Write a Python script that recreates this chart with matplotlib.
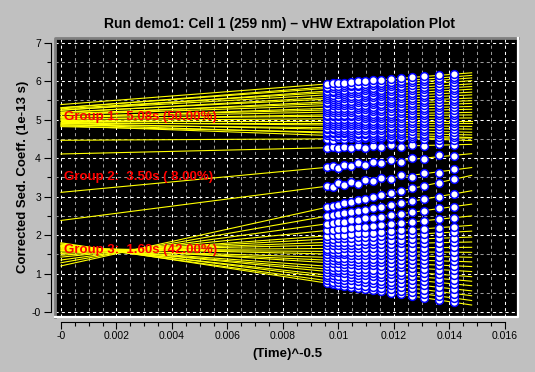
import numpy as np
import matplotlib
matplotlib.use("Agg")
import matplotlib.pyplot as plt
from matplotlib.ticker import FixedLocator, FixedFormatter, MultipleLocator
from matplotlib.lines import Line2D

# ---------------- data ----------------
title = "Run demo1: Cell 1 (259 nm) \u2013 vHW Extrapolation Plot"
x_label = "(Time)^-0.5"
y_label = "Corrected Sed. Coeff. (1e-13 s)"

x_ticks = [0.0, 0.002, 0.004, 0.006, 0.008, 0.010, 0.012, 0.014, 0.016]
x_tick_labels = ["-0", "0.002", "0.004", "0.006", "0.008", "0.01", "0.012", "0.014", "0.016"]
y_ticks = [0, 1, 2, 3, 4, 5, 6, 7]
y_tick_labels = ["-0", "1", "2", "3", "4", "5", "6", "7"]

# (time)^-0.5 of each scan
scan_x = [0.00958, 0.00979, 0.00999, 0.01020, 0.01044, 0.01069, 0.01096, 0.01123,
          0.01153, 0.01188, 0.01224, 0.01264, 0.01308, 0.01362, 0.01416]

# apparent s-values of each boundary fraction (rows) in each scan (columns)
s_points = [
    # group 3
    [0.75, 0.73, 0.71, 0.68, 0.66, 0.63, 0.60, 0.57, 0.54, 0.50, 0.46, 0.42, 0.37, 0.31, 0.25],
    [0.82, 0.79, 0.78, 0.75, 0.73, 0.71, 0.68, 0.65, 0.62, 0.59, 0.55, 0.51, 0.47, 0.42, 0.36],
    [0.90, 0.88, 0.86, 0.84, 0.82, 0.80, 0.77, 0.75, 0.72, 0.69, 0.66, 0.62, 0.58, 0.53, 0.48],
    [0.96, 0.95, 0.93, 0.91, 0.90, 0.88, 0.85, 0.83, 0.81, 0.78, 0.75, 0.72, 0.69, 0.64, 0.60],
    [1.05, 1.04, 1.03, 1.01, 0.99, 0.97, 0.96, 0.94, 0.91, 0.89, 0.86, 0.84, 0.80, 0.77, 0.73],
    [1.12, 1.10, 1.09, 1.08, 1.07, 1.05, 1.03, 1.02, 1.00, 0.98, 0.96, 0.93, 0.90, 0.87, 0.84],
    [1.19, 1.18, 1.17, 1.16, 1.14, 1.13, 1.12, 1.10, 1.09, 1.07, 1.05, 1.03, 1.01, 0.98, 0.95],
    [1.28, 1.27, 1.27, 1.26, 1.25, 1.23, 1.22, 1.21, 1.20, 1.18, 1.16, 1.15, 1.13, 1.10, 1.08],
    [1.35, 1.34, 1.34, 1.33, 1.32, 1.31, 1.30, 1.30, 1.29, 1.27, 1.26, 1.25, 1.24, 1.22, 1.20],
    [1.42, 1.42, 1.41, 1.41, 1.40, 1.39, 1.39, 1.38, 1.38, 1.37, 1.36, 1.35, 1.34, 1.33, 1.32],
    [1.51, 1.50, 1.50, 1.50, 1.49, 1.49, 1.49, 1.48, 1.48, 1.47, 1.46, 1.46, 1.45, 1.44, 1.43],
    [1.58, 1.57, 1.57, 1.57, 1.57, 1.57, 1.57, 1.57, 1.57, 1.56, 1.56, 1.56, 1.56, 1.56, 1.55],
    [1.65, 1.65, 1.65, 1.66, 1.66, 1.66, 1.66, 1.66, 1.66, 1.66, 1.67, 1.67, 1.67, 1.67, 1.68],
    [1.74, 1.74, 1.74, 1.75, 1.75, 1.75, 1.76, 1.76, 1.77, 1.77, 1.78, 1.79, 1.79, 1.80, 1.81],
    [1.81, 1.81, 1.82, 1.83, 1.83, 1.84, 1.85, 1.85, 1.86, 1.87, 1.88, 1.89, 1.90, 1.92, 1.93],
    [1.90, 1.90, 1.91, 1.92, 1.93, 1.94, 1.95, 1.96, 1.97, 1.99, 2.00, 2.02, 2.03, 2.05, 2.08],
    [1.98, 1.99, 2.00, 2.01, 2.02, 2.04, 2.05, 2.06, 2.08, 2.10, 2.12, 2.14, 2.16, 2.19, 2.22],
    [2.12, 2.13, 2.15, 2.16, 2.18, 2.20, 2.22, 2.24, 2.26, 2.29, 2.31, 2.34, 2.37, 2.41, 2.45],
    [2.29, 2.31, 2.33, 2.35, 2.38, 2.40, 2.43, 2.45, 2.48, 2.52, 2.55, 2.59, 2.63, 2.69, 2.74],
    [2.49, 2.52, 2.54, 2.57, 2.60, 2.63, 2.66, 2.70, 2.74, 2.78, 2.83, 2.88, 2.93, 3.00, 3.07],
    [2.72, 2.75, 2.79, 2.82, 2.86, 2.90, 2.94, 2.98, 3.03, 3.09, 3.14, 3.21, 3.28, 3.36, 3.45],
    # group 2
    [3.27, 3.24, 3.36, 3.30, 3.38, 3.33, 3.44, 3.40, 3.49, 3.45, 3.55, 3.51, 3.62, 3.60, 3.72],
    [3.76, 3.80, 3.75, 3.83, 3.79, 3.86, 3.82, 3.90, 3.86, 3.95, 3.91, 4.00, 3.97, 4.07, 4.05],
    [4.26, 4.29, 4.25, 4.30, 4.26, 4.31, 4.27, 4.32, 4.28, 4.33, 4.29, 4.34, 4.31, 4.36, 4.33],
    [4.50, 4.48, 4.52, 4.49, 4.51, 4.50, 4.53, 4.49, 4.52, 4.50, 4.53, 4.51, 4.52, 4.50, 4.52],
    # group 1
    [4.59, 4.58, 4.58, 4.57, 4.57, 4.56, 4.55, 4.55, 4.54, 4.53, 4.52, 4.51, 4.50, 4.48, 4.47],
    [4.65, 4.65, 4.64, 4.64, 4.63, 4.63, 4.62, 4.61, 4.61, 4.60, 4.59, 4.58, 4.57, 4.56, 4.55],
    [4.68, 4.67, 4.67, 4.67, 4.67, 4.66, 4.66, 4.65, 4.65, 4.64, 4.64, 4.63, 4.63, 4.62, 4.61],
    [4.75, 4.75, 4.74, 4.74, 4.74, 4.73, 4.73, 4.73, 4.72, 4.71, 4.71, 4.70, 4.70, 4.69, 4.68],
    [4.79, 4.79, 4.79, 4.78, 4.78, 4.78, 4.78, 4.78, 4.78, 4.77, 4.77, 4.77, 4.76, 4.76, 4.76],
    [4.86, 4.86, 4.86, 4.85, 4.85, 4.85, 4.85, 4.85, 4.85, 4.84, 4.84, 4.84, 4.83, 4.83, 4.83],
    [4.90, 4.90, 4.90, 4.90, 4.90, 4.90, 4.90, 4.90, 4.90, 4.90, 4.90, 4.90, 4.90, 4.90, 4.90],
    [4.97, 4.97, 4.97, 4.97, 4.97, 4.97, 4.97, 4.97, 4.97, 4.97, 4.97, 4.97, 4.97, 4.97, 4.97],
    [5.02, 5.02, 5.02, 5.02, 5.02, 5.02, 5.03, 5.03, 5.03, 5.03, 5.03, 5.03, 5.03, 5.04, 5.04],
    [5.09, 5.09, 5.09, 5.09, 5.09, 5.09, 5.09, 5.10, 5.10, 5.10, 5.10, 5.11, 5.11, 5.11, 5.12],
    [5.12, 5.13, 5.13, 5.13, 5.13, 5.14, 5.14, 5.14, 5.15, 5.15, 5.16, 5.16, 5.17, 5.17, 5.18],
    [5.19, 5.20, 5.20, 5.20, 5.21, 5.21, 5.21, 5.22, 5.22, 5.23, 5.23, 5.24, 5.24, 5.25, 5.26],
    [5.25, 5.25, 5.26, 5.26, 5.26, 5.27, 5.27, 5.28, 5.28, 5.29, 5.30, 5.30, 5.31, 5.32, 5.33],
    [5.29, 5.30, 5.30, 5.31, 5.31, 5.32, 5.33, 5.33, 5.34, 5.35, 5.36, 5.37, 5.38, 5.39, 5.40],
    [5.36, 5.37, 5.37, 5.38, 5.38, 5.39, 5.39, 5.40, 5.41, 5.42, 5.43, 5.44, 5.45, 5.46, 5.47],
    [5.42, 5.42, 5.43, 5.43, 5.44, 5.45, 5.45, 5.46, 5.47, 5.48, 5.49, 5.50, 5.51, 5.53, 5.54],
    [5.46, 5.47, 5.47, 5.48, 5.49, 5.50, 5.51, 5.52, 5.53, 5.54, 5.55, 5.57, 5.58, 5.60, 5.62],
    [5.53, 5.54, 5.54, 5.55, 5.56, 5.57, 5.58, 5.59, 5.60, 5.61, 5.62, 5.64, 5.65, 5.67, 5.69],
    [5.58, 5.58, 5.59, 5.60, 5.61, 5.62, 5.63, 5.64, 5.66, 5.67, 5.69, 5.70, 5.72, 5.74, 5.76],
    [5.64, 5.65, 5.66, 5.67, 5.68, 5.69, 5.70, 5.71, 5.72, 5.74, 5.75, 5.77, 5.79, 5.81, 5.83],
    [5.70, 5.71, 5.72, 5.72, 5.74, 5.75, 5.76, 5.77, 5.78, 5.80, 5.82, 5.83, 5.85, 5.88, 5.90],
    [5.74, 5.75, 5.76, 5.77, 5.79, 5.80, 5.81, 5.83, 5.84, 5.86, 5.88, 5.90, 5.92, 5.95, 5.98],
    [5.81, 5.82, 5.83, 5.84, 5.86, 5.87, 5.88, 5.90, 5.91, 5.93, 5.95, 5.97, 5.99, 6.02, 6.05],
    [5.85, 5.86, 5.87, 5.89, 5.90, 5.91, 5.93, 5.95, 5.96, 5.98, 6.00, 6.03, 6.05, 6.08, 6.11],
    [5.92, 5.94, 5.95, 5.96, 5.97, 5.99, 6.00, 6.02, 6.03, 6.05, 6.07, 6.10, 6.12, 6.15, 6.18],
]

fit_x_range = [0.0, 0.0148]          # extrapolation range of the fit lines

group_names = ["Group 1", "Group 2", "Group 3"]
group_s = [5.08, 3.50, 1.60]
group_pct = [50.00, 8.00, 42.00]

# ---------------- style ----------------
BG = "#c0c0c0"
FONT = ["Liberation Sans", "DejaVu Sans"]
plt.rcParams["font.family"] = FONT

fig = plt.figure(figsize=(5.35, 3.72), dpi=100, facecolor=BG)
ax = fig.add_axes([55 / 535, 1 - 317 / 372, 463 / 535, (317 - 38) / 372])
ax.set_facecolor("black")
ax.set_xlim(-0.000216, 0.01647)
ax.set_ylim(-0.13, 7.12)

# grid
ax.xaxis.set_major_locator(FixedLocator(x_ticks))
ax.xaxis.set_major_formatter(FixedFormatter(x_tick_labels))
ax.xaxis.set_minor_locator(MultipleLocator(0.0005))
ax.yaxis.set_major_locator(FixedLocator(y_ticks))
ax.yaxis.set_major_formatter(FixedFormatter(y_tick_labels))
ax.yaxis.set_minor_locator(MultipleLocator(0.5))
ax.grid(True, which="major", color="white", lw=0.75, linestyle=(0, (3, 3)), zorder=0)
ax.grid(True, which="minor", color="#9a9a9a", lw=0.75, linestyle=(0, (3, 3)), zorder=0)
ax.set_axisbelow(True)

# fitted extrapolation lines
xs = np.array(scan_x)
xl = np.array(fit_x_range)
for row in s_points:
    slope, icpt = np.polyfit(xs, np.array(row), 1)
    ax.plot(xl, icpt + slope * xl, color="#ffff00", lw=0.8, zorder=2)

# data points
for row in s_points:
    ax.plot(xs, row, linestyle="none", marker="o", ms=5.6, mfc="white",
            mec="#0000ff", mew=1.1, zorder=3)

# group labels
for name, s, p in zip(group_names, group_s, group_pct):
    ax.text(0.00012, s, f"{name}:  {s:.2f}s ({p:5.2f}%)", color="#ff0000",
            fontsize=9.5, fontweight="bold", va="center", ha="left", zorder=4)

# spines / ticks
for side in ["top", "right"]:
    ax.spines[side].set_visible(False)
ax.spines["left"].set_position(("outward", 3.1))
ax.spines["bottom"].set_position(("outward", 3.4))
ax.spines["left"].set_bounds(0, 7)
ax.spines["bottom"].set_bounds(0, 0.016)
for side in ["left", "bottom"]:
    ax.spines[side].set_color("black")
    ax.spines[side].set_linewidth(0.8)
ax.tick_params(which="major", direction="out", length=5, width=0.8, color="black",
               labelsize=7.5, labelcolor="black", pad=2)
ax.tick_params(which="minor", direction="out", length=2.8, width=0.8, color="black")

# bevelled frame around the canvas
tr = ax.transAxes
ax.add_line(Line2D([0, 0, 1], [0, 1, 1], transform=tr, color="#808080", lw=2.0,
                   clip_on=False, zorder=5))
ax.add_line(Line2D([0, 1, 1], [0, 0, 1], transform=tr, color="white", lw=1.6,
                   clip_on=False, zorder=5))

# texts
fig.text(279 / 535, 1 - 24 / 372, title, ha="center", va="center",
         fontsize=10, fontweight="bold")
fig.text(23 / 535, 1 - 177 / 372, y_label, ha="center", va="center", rotation=90,
         fontsize=9.5, fontweight="bold")
fig.text(287 / 535, 1 - 353.5 / 372, x_label, ha="center", va="center",
         fontsize=9.5, fontweight="bold")

fig.savefig("out.png", dpi=100, facecolor=BG)
